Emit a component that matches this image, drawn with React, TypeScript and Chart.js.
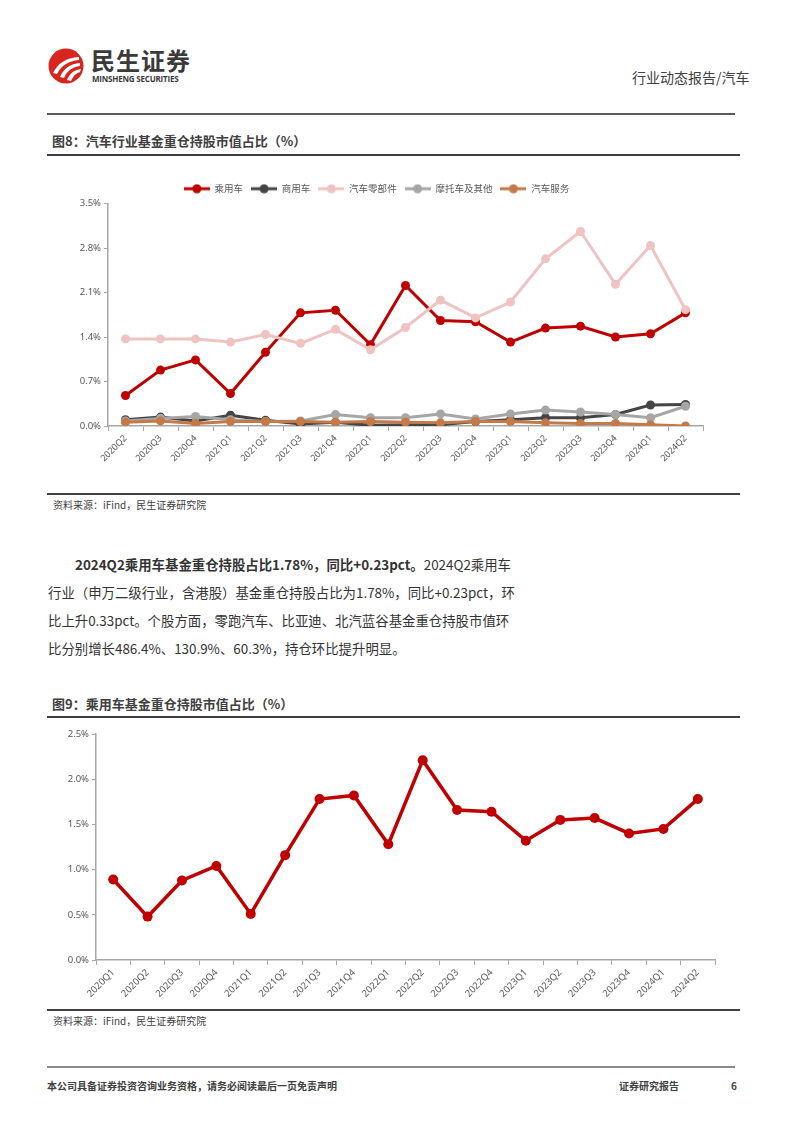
import React, { useEffect, useRef } from "react";
import { Chart, registerables } from "chart.js";
Chart.register(...registerables);

const quarters1 = ["2020Q2","2020Q3","2020Q4","2021Q1","2021Q2","2021Q3","2021Q4","2022Q1","2022Q2","2022Q3","2022Q4","2023Q1","2023Q2","2023Q3","2023Q4","2024Q1","2024Q2"];
const passenger1 = [0.48,0.88,1.04,0.51,1.16,1.78,1.82,1.28,2.21,1.66,1.64,1.32,1.54,1.57,1.40,1.45,1.78];
const commercial = [0.10,0.14,0.08,0.17,0.09,0.03,0.06,0.01,0.02,0.02,0.07,0.10,0.13,0.13,0.18,0.33,0.34];
const parts = [1.37,1.37,1.37,1.32,1.44,1.30,1.52,1.20,1.55,1.98,1.70,1.95,2.63,3.06,2.23,2.84,1.83];
const moto = [0.08,0.12,0.15,0.10,0.07,0.08,0.18,0.13,0.13,0.19,0.11,0.19,0.25,0.22,0.18,0.13,0.31];
const service = [0.06,0.08,0.04,0.07,0.07,0.07,0.06,0.07,0.06,0.05,0.07,0.07,0.05,0.04,0.04,0.02,0.00];
const seriesNames = ["乘用车","商用车","汽车零部件","摩托车及其他","汽车服务"];
const seriesColors = ["#c00000","#454545","#efc3c2","#a6a6a6","#c47a48"];

const quarters2 = ["2020Q1","2020Q2","2020Q3","2020Q4","2021Q1","2021Q2","2021Q3","2021Q4","2022Q1","2022Q2","2022Q3","2022Q4","2023Q1","2023Q2","2023Q3","2023Q4","2024Q1","2024Q2"];
const passenger2 = [0.89,0.48,0.88,1.04,0.51,1.16,1.78,1.82,1.28,2.21,1.66,1.64,1.32,1.55,1.57,1.40,1.45,1.78];

const TICK_FONT = "'Noto Sans', 'Noto Sans CJK SC', sans-serif";
const CJK = "'Noto Sans CJK SC', 'Noto Sans', sans-serif";

function legendIcon(color: string) {
  const c = document.createElement("canvas");
  c.width = 26;
  c.height = 10;
  const ctx = c.getContext("2d")!;
  ctx.strokeStyle = color;
  ctx.lineWidth = 3;
  ctx.beginPath();
  ctx.moveTo(0, 5);
  ctx.lineTo(26, 5);
  ctx.stroke();
  ctx.fillStyle = color;
  ctx.beginPath();
  ctx.arc(13, 5, 4.5, 0, Math.PI * 2);
  ctx.fill();
  return c;
}

function Chart1() {
  const ref = useRef<HTMLCanvasElement>(null);
  useEffect(() => {
    const values = [passenger1, commercial, parts, moto, service];
    const icons = seriesColors.map(legendIcon);
    const chart = new Chart(ref.current!, {
      type: "line",
      data: {
        labels: quarters1,
        datasets: values.map((v, i) => ({
          label: seriesNames[i],
          data: v,
          borderColor: seriesColors[i],
          backgroundColor: seriesColors[i],
          borderWidth: 3,
          pointRadius: 4.5,
          pointBorderWidth: 0,
          tension: 0,
          order: 10 - i,
        })),
      },
      options: {
        animation: false,
        responsive: false,
        devicePixelRatio: 1,
        layout: { padding: { left: 0, right: 27, top: 0, bottom: 0 } },
        plugins: {
          tooltip: { enabled: false },
          legend: {
            position: "top",
            labels: {
              usePointStyle: true,
              pointStyleWidth: 26,
              boxHeight: 10,
              padding: 8,
              color: "#595959",
              font: { family: CJK, size: 9.5 },
              sort: (a: any, b: any) => a.datasetIndex - b.datasetIndex,
              generateLabels: (chart: any) => {
                const base = Chart.defaults.plugins.legend.labels.generateLabels(chart);
                return base.map((l: any) => ({ ...l, pointStyle: icons[l.datasetIndex] }));
              },
            },
          },
        },
        scales: {
          x: {
            offset: true,
            grid: { display: true, offset: true, drawOnChartArea: false, drawTicks: true, tickLength: 5, color: "#a6a6a6" },
            border: { display: true, color: "#a6a6a6", width: 1.5 },
            ticks: { color: "#595959", font: { family: TICK_FONT, size: 9 }, minRotation: 45, maxRotation: 45, padding: 2 },
            afterFit: (s: any) => { s.height = 66; },
          },
          y: {
            min: 0,
            max: 3.5,
            grid: { display: true, drawOnChartArea: false, drawTicks: true, tickLength: 4, color: "#a6a6a6" },
            border: { display: true, color: "#a6a6a6", width: 1.5 },
            ticks: {
              stepSize: 0.7,
              color: "#595959",
              font: { family: TICK_FONT, size: 9.5 },
              padding: 3,
              callback: (v: any) => Number(v).toFixed(1) + "%",
            },
            afterFit: (s: any) => { s.width = 58; },
          },
        },
      },
    } as any);
    return () => chart.destroy();
  }, []);
  return <canvas ref={ref} width={680} height={316} style={{ position: "absolute", left: 50, top: 176 }} />;
}

function Chart2() {
  const ref = useRef<HTMLCanvasElement>(null);
  useEffect(() => {
    const chart = new Chart(ref.current!, {
      type: "line",
      data: {
        labels: quarters2,
        datasets: [
          {
            label: "乘用车",
            data: passenger2,
            borderColor: "#c00000",
            backgroundColor: "#c00000",
            borderWidth: 3.5,
            pointRadius: 5,
            pointBorderWidth: 0,
            tension: 0,
          },
        ],
      },
      options: {
        animation: false,
        responsive: false,
        devicePixelRatio: 1,
        layout: { padding: { left: 0, right: 15, top: 12, bottom: 0 } },
        plugins: { tooltip: { enabled: false }, legend: { display: false } },
        scales: {
          x: {
            offset: true,
            grid: { display: true, offset: true, drawOnChartArea: false, drawTicks: true, tickLength: 5, color: "#a6a6a6" },
            border: { display: true, color: "#a6a6a6", width: 1.5 },
            ticks: { color: "#595959", font: { family: TICK_FONT, size: 9.5 }, minRotation: 45, maxRotation: 45, padding: 2 },
            afterFit: (s: any) => { s.height = 52; },
          },
          y: {
            min: 0,
            max: 2.5,
            grid: { display: true, drawOnChartArea: false, drawTicks: true, tickLength: 4, color: "#a6a6a6" },
            border: { display: true, color: "#a6a6a6", width: 1.5 },
            ticks: {
              stepSize: 0.5,
              color: "#595959",
              font: { family: TICK_FONT, size: 9.5 },
              padding: 3,
              callback: (v: any) => Number(v).toFixed(1) + "%",
            },
            afterFit: (s: any) => { s.width = 46; },
          },
        },
      },
    } as any);
    return () => chart.destroy();
  }, []);
  return <canvas ref={ref} width={680} height={290} style={{ position: "absolute", left: 50, top: 722 }} />;
}

const abs = (left: number, top: number, extra: React.CSSProperties = {}): React.CSSProperties => ({
  position: "absolute",
  left,
  top,
  whiteSpace: "nowrap",
  fontFamily: CJK,
  ...extra,
});

function Logo() {
  return (
    <svg width={40} height={40} viewBox="0 0 40 40" style={{ position: "absolute", left: 46, top: 46 }}>
      <circle cx={20} cy={20} r={17.5} fill="#d7261e" />
      <path d="M7 27 C 12 17, 20 12, 33 11 L 33 14 C 22 15, 15 20, 11 28 Z" fill="#fff" />
      <path d="M14 31 C 18 22, 24 18, 34 17 L 34 20 C 26 21, 21 25, 18 32 Z" fill="#fff" />
      <path d="M21 34 C 24 27, 28 24, 35 23 L 34 26 C 30 27, 27 30, 25 35 Z" fill="#fff" />
    </svg>
  );
}

export default function App() {
  const lineStyle = (top: number, left: number, width: number, h: number, color: string): React.CSSProperties => ({
    position: "absolute",
    top,
    left,
    width,
    height: h,
    background: color,
  });
  return (
    <div style={{ position: "absolute", left: 0, top: 0, width: 794, height: 1123, background: "#fff", overflow: "hidden" }}>
      <Logo />
      <div style={abs(91, 45, { fontSize: 24, fontWeight: 700, color: "#3a3a3a", letterSpacing: 1, lineHeight: "30px" })}>民生证券</div>
      <div style={abs(92, 74, { fontSize: 8, fontWeight: 700, color: "#3a3a3a", lineHeight: "10px", fontFamily: "'Open Sans', 'Noto Sans', sans-serif", letterSpacing: -0.2 })}>MINSHENG SECURITIES</div>
      <div style={abs(632, 67, { fontSize: 14, color: "#404040", lineHeight: "20px" })}>行业动态报告/汽车</div>
      <div style={lineStyle(113, 47, 688, 1.5, "#595959")} />

      <div style={abs(52, 131, { fontSize: 13, fontWeight: 700, color: "#404040", lineHeight: "20px" })}>图8：汽车行业基金重仓持股市值占比（%）</div>
      <div style={lineStyle(154, 47, 693, 2, "#404040")} />
      <Chart1 />
      <div style={lineStyle(493, 47, 693, 2, "#404040")} />
      <div style={abs(53, 497, { fontSize: 10, color: "#404040", lineHeight: "16px" })}>资料来源：iFind，民生证券研究院</div>

      <div style={abs(48, 550, { fontSize: 13.4, color: "#333", lineHeight: "28px" })}>
        <div style={{ paddingLeft: 27 }}>
          <b>2024Q2乘用车基金重仓持股占比1.78%，同比+0.23pct。</b>2024Q2乘用车
        </div>
        <div>行业（申万二级行业，含港股）基金重仓持股占比为1.78%，同比+0.23pct，环</div>
        <div>比上升0.33pct。个股方面，零跑汽车、比亚迪、北汽蓝谷基金重仓持股市值环</div>
        <div>比分别增长486.4%、130.9%、60.3%，持仓环比提升明显。</div>
      </div>

      <div style={abs(52, 694, { fontSize: 13, fontWeight: 700, color: "#404040", lineHeight: "20px" })}>图9：乘用车基金重仓持股市值占比（%）</div>
      <div style={lineStyle(716, 47, 693, 2, "#404040")} />
      <Chart2 />
      <div style={lineStyle(1009, 47, 693, 2, "#404040")} />
      <div style={abs(53, 1013, { fontSize: 10, color: "#404040", lineHeight: "16px" })}>资料来源：iFind，民生证券研究院</div>

      <div style={lineStyle(1066, 47, 688, 1.5, "#8c8c8c")} />
      <div style={abs(47, 1078, { fontSize: 10, fontWeight: 700, color: "#404040", lineHeight: "16px" })}>本公司具备证券投资咨询业务资格，请务必阅读最后一页免责声明</div>
      <div style={abs(619, 1078, { fontSize: 10, fontWeight: 700, color: "#404040", lineHeight: "16px" })}>证券研究报告</div>
      <div style={abs(731, 1078, { fontSize: 10, fontWeight: 700, color: "#404040", lineHeight: "16px" })}>6</div>
    </div>
  );
}
